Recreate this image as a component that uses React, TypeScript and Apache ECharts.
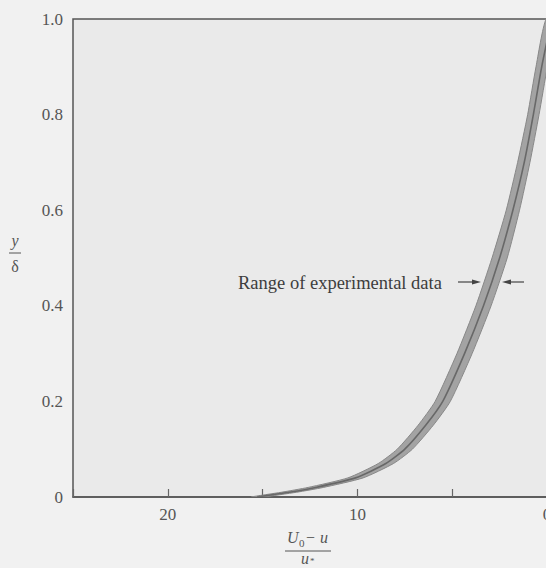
import React, { useEffect, useRef } from 'react';
import * as echarts from 'echarts';

// y/δ levels at which the band of experimental data was read
const bandY = [0, 0.01, 0.02, 0.04, 0.07, 0.1, 0.15, 0.2, 0.3, 0.4, 0.5, 0.6, 0.7, 0.8, 0.9, 1.0];
// (U0 - u)/u* : centre of the band
const bandCentre = [15.3, 13.6, 12.2, 10.1, 8.5, 7.5, 6.4, 5.5, 4.35, 3.35, 2.5, 1.8, 1.2, 0.72, 0.28, -0.25];
// left (larger) edge of the band
const bandLeft = [15.6, 14.0, 12.6, 10.5, 8.9, 7.9, 6.8, 5.9, 4.75, 3.75, 2.9, 2.15, 1.55, 1.02, 0.58, 0.05];
// right (smaller) edge of the band
const bandRight = [15.0, 13.2, 11.8, 9.7, 8.1, 7.1, 6.0, 5.1, 3.95, 2.95, 2.1, 1.45, 0.9, 0.42, -0.02, -0.55];

const xLabelled = [0, 10, 20];
const annotation = 'Range of experimental data';

const SERIF = '"Liberation Serif", "DejaVu Serif", serif';

export default function App() {
  const ref = useRef<HTMLDivElement>(null);
  useEffect(() => {
    const chart = echarts.init(ref.current!, null, { renderer: 'svg' });
    const option: any = {
      animation: false,
      backgroundColor: 'transparent',
      grid: {
        left: 73,
        top: 19,
        right: 5,
        bottom: 71,
        outerBoundsMode: 'none',
        containLabel: false,
        show: true,
        backgroundColor: '#eaeaea',
        borderColor: '#555',
        borderWidth: 1.5,
      },
      xAxis: {
        type: 'value',
        min: 0,
        max: 25,
        interval: 5,
        inverse: true,
        splitLine: { show: false },
        axisLine: { show: true, lineStyle: { color: '#555', width: 1.5 } },
        axisTick: { show: true, inside: true, length: 8, lineStyle: { color: '#666', width: 1.2 } },
        axisLabel: {
          fontFamily: SERIF,
          fontSize: 17,
          color: '#555',
          margin: 9,
          showMaxLabel: true,
          showMinLabel: true,
          hideOverlap: false,
          formatter: (v: number) => (xLabelled.includes(v) ? String(v) : ''),
        },
      },
      yAxis: {
        type: 'value',
        min: 0,
        max: 1,
        interval: 0.2,
        splitLine: { show: false },
        axisLine: { show: true, lineStyle: { color: '#555', width: 1.5 } },
        axisTick: { show: true, inside: true, length: 8, lineStyle: { color: '#666', width: 1.2 } },
        axisLabel: {
          fontFamily: SERIF,
          fontSize: 17,
          color: '#555',
          margin: 10,
          formatter: (v: number) => (v === 0 ? '0' : v.toFixed(1)),
        },
      },
      series: [
        {
          type: 'custom',
          coordinateSystem: 'cartesian2d',
          clip: true,
          data: [[bandCentre[0], bandY[0]]],
          renderItem: (_params: any, api: any) => {
            const left = bandY.map((y, i) => api.coord([bandLeft[i], y]));
            const right = bandY.map((y, i) => api.coord([bandRight[i], y])).reverse();
            const centre = bandY.map((y, i) => api.coord([bandCentre[i], y]));
            return {
              type: 'group',
              children: [
                {
                  type: 'polygon',
                  shape: { points: [...left, ...right], smooth: 0.2 },
                  style: { fill: '#a3a3a3', stroke: '#888', lineWidth: 1 },
                },
                {
                  type: 'polyline',
                  shape: { points: centre, smooth: 0.2 },
                  style: { stroke: '#686868', lineWidth: 1.6, fill: 'none' },
                },
              ],
            };
          },
        },
      ],
      graphic: [
        {
          type: 'text',
          x: 238,
          y: 283,
          style: { text: annotation, font: `18.5px ${SERIF}`, fill: '#3d3d3d', verticalAlign: 'middle', align: 'left' },
        },
        { type: 'line', shape: { x1: 458, y1: 282, x2: 474, y2: 282 }, style: { stroke: '#444', lineWidth: 1.2 } },
        { type: 'polygon', shape: { points: [[481, 282], [472, 279.5], [472, 284.5]] }, style: { fill: '#444' } },
        { type: 'line', shape: { x1: 509, y1: 282, x2: 524, y2: 282 }, style: { stroke: '#444', lineWidth: 1.2 } },
        { type: 'polygon', shape: { points: [[502, 282], [511, 279.5], [511, 284.5]] }, style: { fill: '#444' } },
        // y-axis title: y / δ
        {
          type: 'text',
          x: 15,
          y: 240,
          style: { text: 'y', font: `italic 16px ${SERIF}`, fill: '#555', align: 'center', verticalAlign: 'middle' },
        },
        { type: 'line', shape: { x1: 9, y1: 253, x2: 21, y2: 253 }, style: { stroke: '#555', lineWidth: 1 } },
        {
          type: 'text',
          x: 15,
          y: 266,
          style: { text: 'δ', font: `16px ${SERIF}`, fill: '#555', align: 'center', verticalAlign: 'middle' },
        },
        // x-axis title: (U0 − u) / u*
        {
          type: 'text',
          x: 287,
          y: 537,
          style: { text: 'U', font: `italic 16px ${SERIF}`, fill: '#555', align: 'left', verticalAlign: 'middle' },
        },
        {
          type: 'text',
          x: 299,
          y: 543,
          style: { text: '0', font: `11px ${SERIF}`, fill: '#555', align: 'left', verticalAlign: 'middle' },
        },
        {
          type: 'text',
          x: 306,
          y: 537,
          style: { text: '− ', font: `16px ${SERIF}`, fill: '#555', align: 'left', verticalAlign: 'middle' },
        },
        {
          type: 'text',
          x: 320,
          y: 537,
          style: { text: 'u', font: `italic 16px ${SERIF}`, fill: '#555', align: 'left', verticalAlign: 'middle' },
        },
        { type: 'line', shape: { x1: 285, y1: 551, x2: 331, y2: 551 }, style: { stroke: '#555', lineWidth: 1 } },
        {
          type: 'text',
          x: 305,
          y: 558,
          style: { text: 'u', font: `italic 16px ${SERIF}`, fill: '#555', align: 'center', verticalAlign: 'middle' },
        },
        {
          type: 'text',
          x: 310,
          y: 561,
          style: { text: '*', font: `9px ${SERIF}`, fill: '#555', align: 'left', verticalAlign: 'middle' },
        },
      ],
    };
    chart.setOption(option);
    return () => chart.dispose();
  }, []);
  return (
    <div
      style={{
        position: 'fixed',
        left: 0,
        top: 0,
        width: 546,
        height: 568,
        overflow: 'hidden',
        background: '#f1f1f1',
      }}
    >
      <div ref={ref} style={{ width: 552, height: 568 }} />
    </div>
  );
}
